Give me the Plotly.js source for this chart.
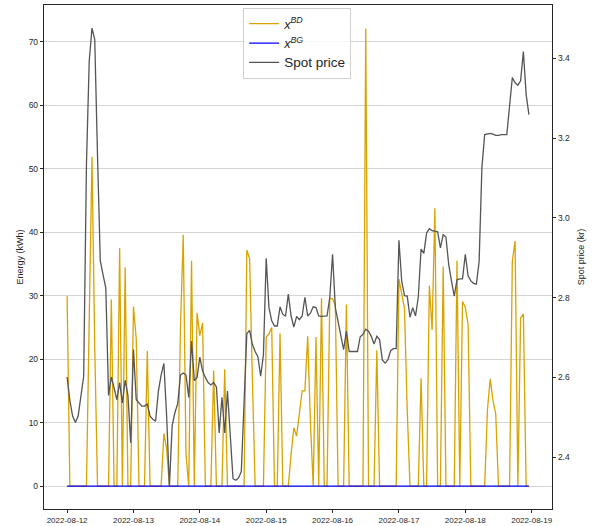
<!DOCTYPE html>
<html><head><meta charset="utf-8">
<script src="https://cdn.plot.ly/plotly-3.0.1.min.js"></script>
<style>html,body{margin:0;padding:0;background:#fff}</style>
</head><body><div id="chart" style="width:602px;height:526px"></div>
<script>
// Hourly data, 2022-08-12 00:00 .. 2022-08-18 23:00 (168 hours)
const startDay = 12;
const hoursCount = 168;

const energyBD = [
 29.9,0,0,0,0,0,0,0,26,51.9,22,0,0,0,0,0,29.4,0,0,37.5,0,34.5,0,0,
 28.3,23.2,0,0,0,21.3,0,0,0,0,0,8.3,5.9,0,0,0,0,25,39.6,5,0,35.5,0,27.3,
 23.7,25.7,0,0,0,18.2,0,0,0,18.4,0,0,0,0,0,0,0,37.2,35.8,17,0,0,0,0,
 23.5,24,25,0,0,24.1,0,0,0,5,9.2,7.9,11.5,15,15,23.6,10,0,23.5,0,29.6,0,0,29.6,
 29.5,28.5,0,0,0,28.6,0,0,0,0,0,0,72.1,0,0,0,21.4,0,0,0,0,0,0,0,
 32.6,30.2,28,12,0,0,0,0,17,0,0,31.6,24.6,43.8,0,0,34.6,0,0,0,0,35.5,0,29.1,
 28.2,25.5,0,0,0,0,0,0,12,16.9,13.5,11.4,0,0,0,0,0,35.4,38.6,0,26.5,27.1,0,0
];

const energyBG = [
 0,0,0,0,0,0,0,0,0,0,0,0,0,0,0,0,0,0,0,0,0,0,0,0,
 0,0,0,0,0,0,0,0,0,0,0,0,0,0,0,0,0,0,0,0,0,0,0,0,
 0,0,0,0,0,0,0,0,0,0,0,0,0,0,0,0,0,0,0,0,0,0,0,0,
 0,0,0,0,0,0,0,0,0,0,0,0,0,0,0,0,0,0,0,0,0,0,0,0,
 0,0,0,0,0,0,0,0,0,0,0,0,0,0,0,0,0,0,0,0,0,0,0,0,
 0,0,0,0,0,0,0,0,0,0,0,0,0,0,0,0,0,0,0,0,0,0,0,0,
 0,0,0,0,0,0,0,0,0,0,0,0,0,0,0,0,0,0,0,0,0,0,0,0
];

const spotPrice = [
 2.601,2.542,2.503,2.487,2.503,2.550,2.603,3.134,3.393,3.476,3.448,3.156,2.893,2.858,2.824,2.555,2.601,2.574,2.544,2.587,2.536,2.593,2.555,2.436,
 2.670,2.544,2.536,2.528,2.528,2.533,2.503,2.495,2.490,2.565,2.606,2.635,2.503,2.327,2.479,2.512,2.534,2.606,2.611,2.606,2.550,2.691,2.592,2.600,
 2.651,2.616,2.600,2.587,2.581,2.587,2.576,2.461,2.550,2.461,2.566,2.455,2.346,2.342,2.348,2.364,2.534,2.710,2.718,2.683,2.665,2.652,2.603,2.657,
 2.899,2.775,2.742,2.729,2.729,2.777,2.758,2.754,2.809,2.754,2.726,2.753,2.745,2.754,2.801,2.754,2.761,2.777,2.775,2.754,2.753,2.754,2.754,2.801,
 2.909,2.775,2.737,2.700,2.670,2.716,2.665,2.665,2.665,2.665,2.702,2.708,2.721,2.716,2.703,2.684,2.703,2.695,2.644,2.636,2.644,2.667,2.672,2.672,
 2.944,2.842,2.805,2.804,2.751,2.775,2.754,2.801,2.922,2.911,2.962,2.973,2.968,2.966,2.965,2.925,2.958,2.952,2.883,2.842,2.804,2.845,2.847,2.847,
 2.909,2.855,2.842,2.836,2.834,2.891,3.126,3.209,3.210,3.212,3.210,3.207,3.207,3.209,3.209,3.209,3.280,3.352,3.339,3.333,3.344,3.417,3.310,3.259
];

const dayTicks = ['2022-08-12','2022-08-13','2022-08-14','2022-08-15','2022-08-16','2022-08-17','2022-08-18','2022-08-19'];
const energyTicks = [0,10,20,30,40,50,60,70];
const priceTicks = [2.4,2.6,2.8,3.0,3.2,3.4];

function pad(n){return (n<10?'0':'')+n;}
const times = [];
for (let i=0;i<hoursCount;i++){
  const d = startDay + Math.floor(i/24), h = i%24;
  times.push('2022-08-'+pad(d)+' '+pad(h)+':00:00');
}

const FONT = 'Liberation Sans, Arial, sans-serif';
const AX = '#262626';

const traces = [
  {x: times, y: energyBD, type:'scatter', mode:'lines', name:'<i>x<sup>BD</sup></i>',
   line:{color:'#D9A300', width:1.3}, yaxis:'y'},
  {x: times, y: energyBG, type:'scatter', mode:'lines', name:'<i>x<sup>BG</sup></i>',
   line:{color:'#0000FF', width:1.4}, yaxis:'y'},
  {x: times, y: spotPrice, type:'scatter', mode:'lines', name:'<span style="font-size:13.5px">Spot price</span>',
   line:{color:'#555555', width:1.3}, yaxis:'y2'}
];

const layout = {
  width:602, height:526,
  margin:{l:44, r:50, t:5, b:17, pad:0},
  paper_bgcolor:'#fff', plot_bgcolor:'#fff',
  font:{family:FONT, size:9, color:AX},
  showlegend:true,
  legend:{x:0.392, y:0.994, xanchor:'left', yanchor:'top',
    bgcolor:'rgba(255,255,255,0.85)', bordercolor:'#d0d0d0', borderwidth:1,
    font:{family:FONT, size:12.6, color:'#262626'}, itemwidth:30, tracegroupgap:0},
  xaxis:{type:'date', range:['2022-08-11 15:39','2022-08-19 07:21'],
    tickvals:dayTicks, ticktext:dayTicks, ticks:'outside', ticklen:3, tickcolor:AX,
    showgrid:false, zeroline:false, showline:true, linecolor:AX, linewidth:1.2, mirror:true,
    tickfont:{size:8, color:AX}},
  yaxis:{range:[-3.61,75.81], tickvals:energyTicks, ticks:'outside', ticklen:3, tickcolor:AX,
    showgrid:true, gridcolor:'#d4d4d4', gridwidth:1, zeroline:false,
    showline:true, linecolor:AX, linewidth:1.2,
    tickfont:{size:8.5, color:AX},
    title:{text:'Energy (kWh)', font:{size:9, color:AX}, standoff:3}},
  yaxis2:{range:[2.270,3.534], tickvals:priceTicks, tickformat:'.1f', overlaying:'y', side:'right',
    ticks:'outside', ticklen:3, tickcolor:AX, showgrid:false, zeroline:false,
    showline:true, linecolor:AX, linewidth:1.2,
    tickfont:{size:8.5, color:AX},
    title:{text:'Spot price (kr)', font:{size:9, color:AX}, standoff:8}}
};

Plotly.newPlot('chart', traces, layout, {displayModeBar:false, staticPlot:true});
</script>
</body></html>
